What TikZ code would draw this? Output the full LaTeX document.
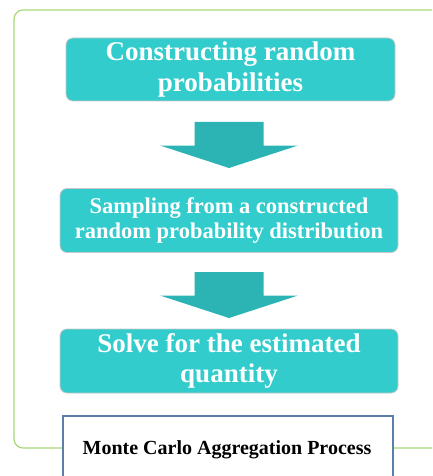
\documentclass[tikz,border=0pt]{standalone}
\usepackage{fontspec}
\setmainfont{Liberation Serif}
\usetikzlibrary{calc}
\definecolor{boxfill}{HTML}{33CCCC}
\definecolor{arrowfill}{HTML}{2CB4B4}
\definecolor{framegreen}{HTML}{A8D878}
\definecolor{labelblue}{HTML}{5B80A8}
\definecolor{boxline}{HTML}{C8C8C8}
\begin{document}
\begin{tikzpicture}[x=1pt,y=-1pt,
  stepbox/.style={draw=boxline, line width=0.8pt, fill=boxfill, rounded corners=7pt,
    text=white, align=center, inner sep=0pt, font=\bfseries},
  blockarrow/.style={fill=arrowfill, draw=none},
  labelbox/.style={draw=labelblue, line width=1.5pt, fill=white, inner sep=0pt,
    font=\bfseries\fontsize{20}{24}\selectfont}]
\useasboundingbox (0,0) rectangle (432,476);
\clip (0,0) rectangle (432,476);
% outer frame
\draw[framegreen, line width=1.2pt, rounded corners=9pt] (14,10) rectangle (460,448);
% boxes
\node[stepbox, minimum width=329pt, minimum height=63pt, font=\bfseries\fontsize{27}{31}\selectfont]
  (b1) at (230.5,69.5) {Constructing random\\probabilities};
\node[stepbox, minimum width=338pt, minimum height=64pt, font=\bfseries\fontsize{22.5}{25}\selectfont]
  (b2) at (229,220.5) {Sampling from a constructed\\random probability distribution};
\node[stepbox, minimum width=338pt, minimum height=64pt, font=\bfseries\fontsize{27}{30}\selectfont]
  (b3) at (229,361) {Solve for the estimated\\quantity};
% block arrows
\coordinate (a1) at (229,122);
\coordinate (a2) at (229,272);
\foreach \a in {a1,a2}{
  \fill[blockarrow] ($(\a)+(-34.5,0)$) -- ($(\a)+(34.5,0)$) -- ($(\a)+(34.5,23.5)$)
    -- ($(\a)+(69,23.5)$) -- ($(\a)+(0,46)$) -- ($(\a)+(-69,23.5)$)
    -- ($(\a)+(-34.5,23.5)$) -- cycle;
}
% label
\node[labelbox, minimum width=330pt, minimum height=72pt, anchor=north west]
  (lab) at (62,415) {};
\node[font=\bfseries\fontsize{20}{24}\selectfont, anchor=base] (labt) at (227,454)
  {Monte Carlo Aggregation Process};
\end{tikzpicture}
\end{document}
